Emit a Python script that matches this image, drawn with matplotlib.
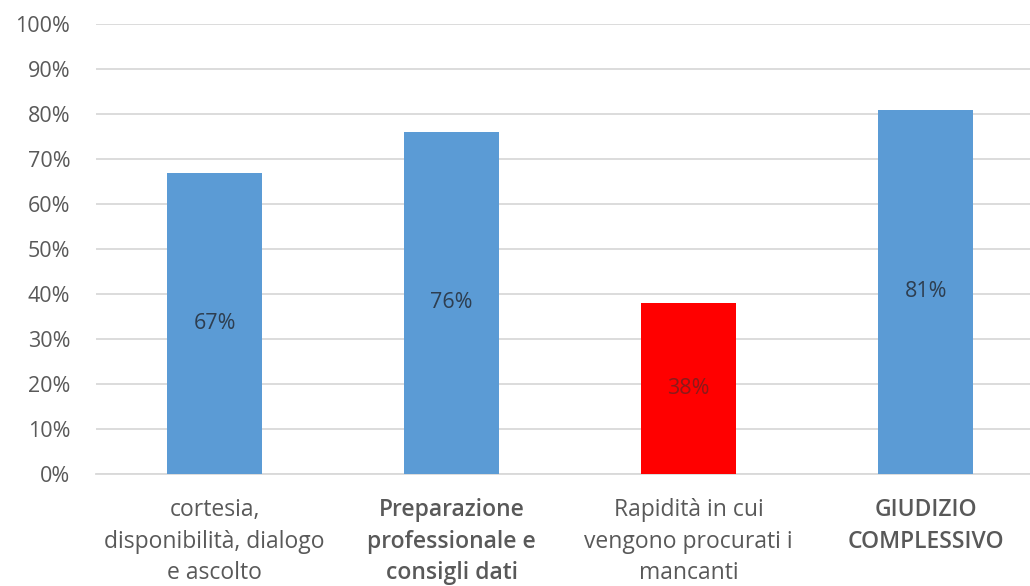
import matplotlib
matplotlib.use("Agg")
import matplotlib.pyplot as plt
from matplotlib.ticker import FuncFormatter

categories = ["cortesia,\ndisponibilità, dialogo\ne ascolto",
              "Preparazione\nprofessionale e\nconsigli dati",
              "Rapidità in cui\nvengono procurati i\nmancanti",
              "GIUDIZIO\nCOMPLESSIVO"]
values = [0.67, 0.76, 0.38, 0.81]
colors = ["#5B9BD5", "#5B9BD5", "#FF0000", "#5B9BD5"]
bold = [False, True, False, True]
yticks = [i / 10 for i in range(11)]

plt.rcParams['font.family'] = ['Open Sans', 'DejaVu Sans']

fig = plt.figure(figsize=(10.30, 5.86), dpi=100)
ax = fig.add_axes([96 / 1030, 1 - 474 / 586, 1 - 96 / 1030, 450 / 586])

x = list(range(len(values)))
bars = ax.bar(x, values, width=0.40, color=colors, zorder=3)
for xi, v, c in zip(x, values, colors):
    ax.text(xi, v / 2, f"{round(v*100)}%", ha="center", va="center",
            fontsize=15.5, color="#2E3E50" if c != "#FF0000" else "#8B1A1A", zorder=4)

ax.set_xlim(-0.5, 3.44)
ax.set_ylim(0, 1.0)
ax.set_yticks(yticks)
ax.yaxis.set_major_formatter(FuncFormatter(lambda v, p: f"{round(v*100)}%"))
ax.grid(axis="y", color="#D9D9D9", linewidth=1.3, zorder=0)
ax.set_axisbelow(True)
for s in ["top", "right", "left"]:
    ax.spines[s].set_visible(False)
ax.spines["bottom"].set_color("#D9D9D9")
ax.spines["bottom"].set_linewidth(1.3)
ax.tick_params(axis="y", length=0, pad=18.5, labelsize=15.5, labelcolor="#595959")
ax.tick_params(axis="x", length=0, pad=17.5)
ax.set_xticks(x)
ax.set_xticklabels(categories, fontsize=16.5, color="#595959", linespacing=1.4)
for lbl, b in zip(ax.get_xticklabels(), bold):
    if b:
        lbl.set_fontweight("semibold")

fig.savefig("out.png", dpi=100, facecolor="white")
